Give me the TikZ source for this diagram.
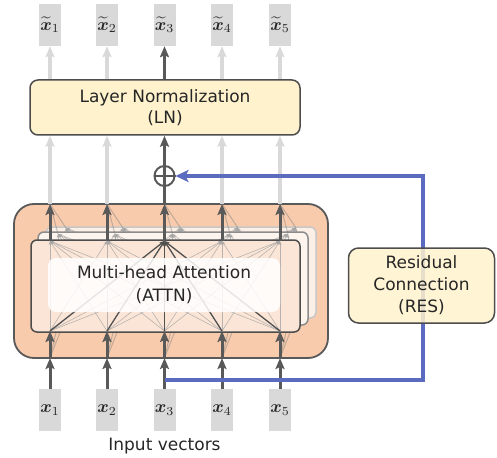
\documentclass[tikz,border=0pt]{standalone}
\usepackage{amsmath,bm}
\usepackage{graphicx}
\usepackage{fontspec}
\setmainfont{DejaVu Sans}
\usetikzlibrary{arrows.meta,calc}
\definecolor{lgray}{HTML}{D9D9D9}
\definecolor{dgray}{HTML}{595959}
\definecolor{bordgray}{HTML}{4D4D4D}
\definecolor{lnfill}{HTML}{FFF2CC}
\definecolor{attnfill}{HTML}{F8CBAD}
\definecolor{headfill}{HTML}{FBE5D6}
\definecolor{headfillb}{HTML}{FDF4EE}
\definecolor{headfillc}{HTML}{FCEFE6}
\definecolor{resblue}{HTML}{5B6BBF}
\definecolor{txt}{HTML}{262626}
\newcommand{\veclabel}[1]{\scalebox{1.75}{$#1$}}
\tikzset{
  vecbox/.style={fill=lgray, minimum width=22pt, minimum height=42pt, inner sep=0pt, text=txt},
  ybox/.style={draw=bordgray, line width=1.5pt, rounded corners=8pt, fill=lnfill, align=center, text=txt, inner sep=0pt, font=\fontsize{17}{21}\selectfont},
  bigtip/.tip={Stealth[length=11pt,width=9pt,inset=2pt]},
  darrow/.style={draw=dgray, line width=3pt, -bigtip},
  larrow/.style={draw=lgray, line width=3.5pt, -bigtip},
  attlight/.style={draw=gray!70, line width=0.6pt, opacity=0.8, -{Stealth[length=4pt,width=3pt]}},
  attdark/.style={draw=dgray!90!black, line width=1.3pt, -{Stealth[length=5pt,width=4pt]}},
  faint/.style={draw=gray, line width=1pt, opacity=0.45},
  headbox/.style={rounded corners=6pt, inner sep=0pt, line width=1.5pt},
}
\begin{document}
\begin{tikzpicture}[x=1pt,y=-1pt]
\path[use as bounding box] (0,0) rectangle (497,457);

% input / output vectors
\foreach \i/\x in {1/50,2/107,3/164.5,4/222,5/280}{
  \node[vecbox] (in\i) at (\x,410) {\veclabel{\bm{x}_{\i}}};
  \node[vecbox] (out\i) at (\x,25) {\veclabel{\widetilde{\bm{x}}_{\i}}};
  \coordinate (ct\i) at (\x,204);
  \coordinate (cb\i) at (\x,358);
  \coordinate (h0t\i) at (\x,241);
  \coordinate (h0b\i) at (\x,331);
  \coordinate (h1t\i) at (\x+8,234);
  \coordinate (h1b\i) at (\x+8,324);
  \coordinate (h2t\i) at (\x+16,228);
  \coordinate (h2b\i) at (\x+16,317);
}
\node[font=\fontsize{17}{21}\selectfont, text=txt] (inlabel) at (164.5,446) {Input vectors};

% outer attention block
\node[draw=dgray, line width=1.8pt, rounded corners=20pt, fill=attnfill, minimum width=314pt, minimum height=154pt, inner sep=0pt] (attn) at (171,281) {};

% back head
\node[headbox, draw=lgray!80!gray, fill=headfillc, minimum width=270pt, minimum height=91pt] (head2) at (181,272.5) {};
\foreach \i in {1,...,5}{\foreach \j in {1,...,5}{\draw[attlight] (h2b\j) -- (h2t\i);}}
\foreach \i in {1,...,5}{\draw[faint] (cb\i) -- (h2b\i); \draw[faint] (h2t\i) -- (ct\i);}

% middle head
\node[headbox, draw=gray!90, fill=headfillb, minimum width=270pt, minimum height=93pt] (head1) at (173,278.5) {};
\foreach \i in {1,...,5}{\foreach \j in {1,...,5}{\draw[attlight] (h1b\j) -- (h1t\i);}}
\foreach \i in {1,...,5}{\draw[faint] (cb\i) -- (h1b\i); \draw[faint] (h1t\i) -- (ct\i);}

% front head
\node[headbox, draw=bordgray, fill=headfill, minimum width=269pt, minimum height=92pt] (head0) at (165.5,286) {};
\foreach \i in {1,2,4,5}{\foreach \j in {1,...,5}{\draw[attlight] (h0b\j) -- (h0t\i);}}
\foreach \j in {1,...,5}{\draw[attdark] (h0b\j) -- (h0t3);}

% text box
\node[fill=white, fill opacity=0.85, rounded corners=8pt, minimum width=232pt, minimum height=54pt, inner sep=0pt] (attnbg) at (164,285) {};
\node[align=center, text=txt, font=\fontsize{17}{23}\selectfont] (attntxt) at (164,285) {Multi-head Attention\\(ATTN)};

% arrows inside outer block and from inputs
\foreach \i in {1,...,5}{
  \draw[darrow] (in\i.north) -- (cb\i);
  \draw[darrow] (cb\i) -- (h0b\i);
  \draw[darrow] (h0t\i) -- (ct\i);
}

% layer normalization
\node[ybox, minimum width=270pt, minimum height=55pt] (ln) at (165,107.5) {Layer Normalization\\(LN)};

% plus node
\node[circle, draw=dgray, line width=2pt, fill=white, minimum size=20pt, inner sep=0pt] (plus) at (164.5,176) {};
\draw[dgray, line width=2pt] (plus.west) -- (plus.east);

% arrows between attention block and LN, and to outputs
\foreach \i in {1,2,4,5}{
  \draw[larrow] (ct\i) -- (ln.south -| ct\i);
  \draw[larrow] (ln.north -| out\i) -- (out\i.south);
}
\draw[dgray, line width=3pt] (ct3) -- (plus.north);
\draw[darrow] (plus.north) -- (ln.south -| plus);
\draw[darrow] (ln.north -| out3) -- (out3.south);

% residual connection
\coordinate (resstart) at (164.5,380);
\coordinate (rescornera) at (423,380);
\coordinate (rescornerb) at (423,176);
\draw[resblue, line width=4pt, miter limit=10, -{Stealth[length=13pt,width=12pt,inset=3pt]}]
  (resstart) -- (rescornera) -- (rescornerb) -- (plus.east);
\node[ybox, rounded corners=10pt, fill opacity=0.85, text opacity=1, minimum width=146pt, minimum height=75pt, font=\fontsize{17}{22}\selectfont] (res) at (421.5,285.5) {Residual\\Connection\\(RES)};
\end{tikzpicture}
\end{document}
